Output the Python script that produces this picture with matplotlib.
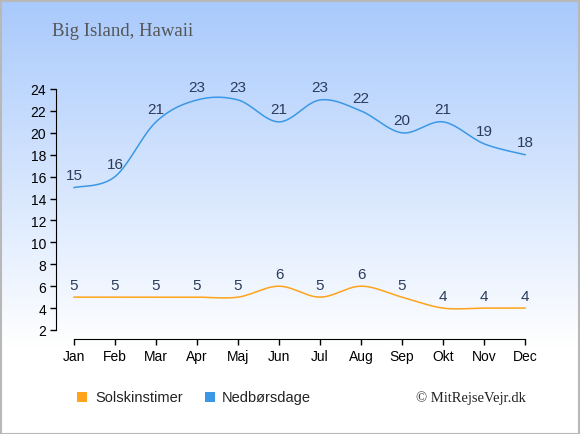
import numpy as np
import matplotlib
matplotlib.use('Agg')
from matplotlib import pyplot as plt
from matplotlib.patches import Rectangle

months = ['Jan', 'Feb', 'Mar', 'Apr', 'Maj', 'Jun', 'Jul', 'Aug', 'Sep', 'Okt', 'Nov', 'Dec']
sun_hours = [5, 5, 5, 5, 5, 6, 5, 6, 5, 4, 4, 4]
rain_days = [15, 16, 21, 23, 23, 21, 23, 22, 20, 21, 19, 18]
y_ticks = list(range(2, 25, 2))

SUN_COLOR = '#ffa31a'
RAIN_COLOR = '#3a98e6'
LABEL_COLOR = '#2b3c5c'


def smooth(x, y, steps=30):
    # catmull-rom style curve through the points (line shape only)
    x = np.asarray(x, float)
    y = np.asarray(y, float)
    n = len(x)
    xs, ys = [], []
    for i in range(n - 1):
        p0 = i - 1 if i > 0 else i
        p3 = i + 2 if i + 2 < n else i + 1
        m1x = (x[i + 1] - x[p0]) / 2
        m1y = (y[i + 1] - y[p0]) / 2
        m2x = (x[p3] - x[i]) / 2
        m2y = (y[p3] - y[i]) / 2
        t = np.linspace(0, 1, steps)
        h00 = 2 * t**3 - 3 * t**2 + 1
        h10 = t**3 - 2 * t**2 + t
        h01 = -2 * t**3 + 3 * t**2
        h11 = t**3 - t**2
        xs.append(h00 * x[i] + h10 * m1x + h01 * x[i + 1] + h11 * m2x)
        ys.append(h00 * y[i] + h10 * m1y + h01 * y[i + 1] + h11 * m2y)
    return np.concatenate(xs), np.concatenate(ys)


W, H = 580, 435
fig = plt.figure(figsize=(W / 100, H / 100), dpi=100)

# background gradient, blue at the top fading to white
bg = fig.add_axes([0, 0, 1, 1], zorder=-10)
top = np.array([0.66, 0.79, 0.99])
grad = np.linspace(0, 1, 256)
frac = np.clip(grad / 0.8, 0, 1)[:, None]
img = top * (1 - frac) + np.ones(3) * frac
bg.imshow(img[:, None, :], aspect='auto', extent=[0, 1, 1, 0], origin='upper')
bg.set_xlim(0, 1)
bg.set_ylim(1, 0)
bg.axis('off')
fig.patches.append(Rectangle((0.5 / W, 0.5 / H), 1 - 2 / W, 1 - 2 / H, transform=fig.transFigure,
                             fill=False, edgecolor='#b8b8b8', linewidth=1.5))

# plot area
px_x = 41.0
px_y = 241.0 / 22
left, right = 56, 530
bottom, topp = 340, 80
ax = fig.add_axes([left / W, 1 - bottom / H, (right - left) / W, (bottom - topp) / H])
ax.patch.set_alpha(0)
x = np.arange(len(months))
ax.set_xlim(-18 / px_x, 11 + 5 / px_x)
ax.set_ylim(2 - 9 / px_y, 24 + 10 / px_y)

for vals, col in [(sun_hours, SUN_COLOR), (rain_days, RAIN_COLOR)]:
    sx, sy = smooth(x, vals)
    ax.plot(sx, sy, color=col, linewidth=1.1)
    for xi, v in zip(x, vals):
        ax.annotate(str(v), (xi, v), xytext=(0, 4), textcoords='offset points',
                    ha='center', va='bottom', fontsize=11, color=LABEL_COLOR,
                    family='Liberation Sans')

for s in ['top', 'right']:
    ax.spines[s].set_visible(False)
ax.spines['left'].set_bounds(2, 24)
ax.spines['bottom'].set_bounds(0, 11)
ax.set_yticks(y_ticks)
ax.set_xticks(x)
ax.set_xticklabels(months)
ax.tick_params(axis='both', length=4, width=1, labelsize=10, colors='black', pad=3)
for lab in ax.get_xticklabels() + ax.get_yticklabels():
    lab.set_family('Liberation Sans')

fig.text(52 / W, 1 - 32 / H, 'Big Island, Hawaii', family='Liberation Serif', fontsize=13.5,
         color='#555555', va='center', ha='left')

# legend
for lx, tx, col, name in [(82, 95, SUN_COLOR, 'Solskinstimer'), (210, 222, RAIN_COLOR, 'Nedbørsdage')]:
    fig.patches.append(Rectangle(((lx - 5) / W, 1 - 403 / H), 10 / W, 10 / H,
                                 transform=fig.transFigure, facecolor=col, edgecolor='none'))
    fig.text(tx / W, 1 - 398 / H, name, family='Liberation Sans', fontsize=10.5,
             color='#222222', va='center', ha='left')
fig.text(526 / W, 1 - 398 / H, '© MitRejseVejr.dk', family='Liberation Serif', fontsize=10.5,
         color='#222222', va='center', ha='right')

fig.savefig('out.png', dpi=100)
